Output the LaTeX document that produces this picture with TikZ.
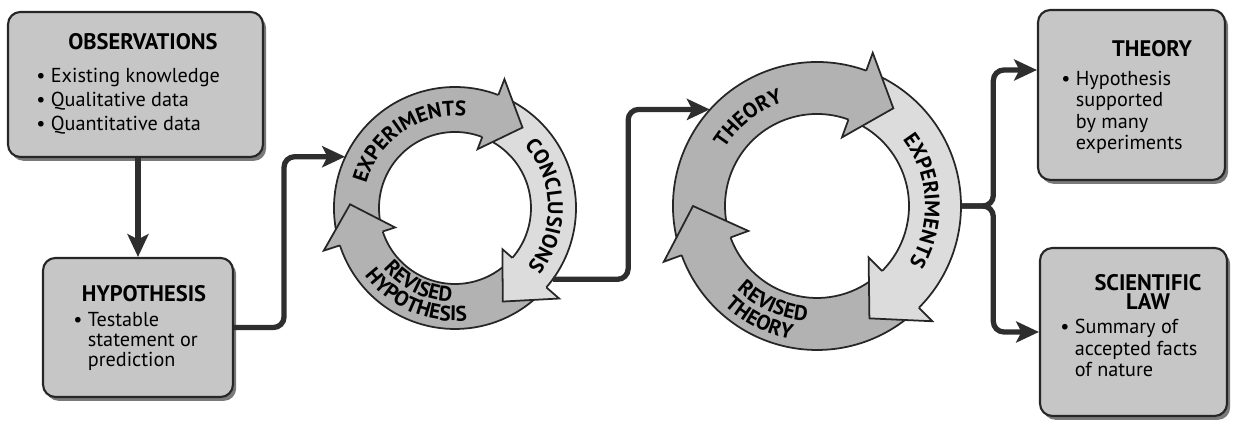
\documentclass[tikz,border=0pt]{standalone}
\usepackage{fontspec}
\setmainfont{PT Sans}
\usetikzlibrary{arrows.meta,decorations.text,shadows,calc}
\definecolor{boxfill}{HTML}{C6C6C6}
\definecolor{edgec}{HTML}{262626}
\definecolor{shadowc}{HTML}{7A7A7A}
\definecolor{midg}{HTML}{B2B2B2}
\definecolor{lightg}{HTML}{DCDCDC}
\definecolor{connc}{HTML}{2E2E2E}
\newcommand\ringband[3]{%
  \filldraw[fill=#3, draw=edgec, line width=1pt] (#1:\Rout) arc[start angle=#1, end angle={#2-2}, radius=\Rout] -- ({#2-2}:\Rin) arc[start angle={#2-2}, end angle=#1, radius=\Rin] -- cycle;}
\newcommand\ringhead[3]{%
  \filldraw[fill=#3, draw=edgec, line width=1pt, line join=miter] (#1:\Rout) -- ({#1}:{\Rout+\Fout}) -- (#2:\Rtip) -- ({#1}:{\Rin-\Fin}) -- (#1:\Rin);}
\newcommand\ringfont{\fontsize{12}{12}\selectfont\bfseries}
\begin{document}
\begin{tikzpicture}[x=0.02cm,y=0.02cm,
  box/.style={draw=edgec, line width=1.2pt, fill=boxfill, rounded corners=7pt, inner sep=0pt,
    drop shadow={shadow xshift=1.8pt, shadow yshift=-2.2pt, fill=shadowc, opacity=1}},
  head/.style={font=\fontsize{12.8}{11.3}\selectfont\bfseries, inner sep=0pt, align=center},
  body/.style={inner sep=0pt, align=left},
  conn/.style={draw=connc, line width=3pt, rounded corners=6pt,
    -{Stealth[length=13pt,width=12pt,inset=3pt]}},
  ringtext/.style={decorate, decoration={text along path, text align=center, text={#1}}}
]
\useasboundingbox (0,0) rectangle (1234,421);

% ---------- boxes ----------
\node[box, minimum width=5.1cm, minimum height=2.9cm] (obs) at (135.5,336.5) {};
\node[box, minimum width=3.8cm, minimum height=2.78cm] (hyp) at (138,93.5) {};
\node[box, minimum width=3.74cm, minimum height=3.4cm] (thy) at (1131.5,326) {};
\node[box, minimum width=3.74cm, minimum height=3.36cm] (law) at (1133.5,89) {};

% (base anchor of a multi-line node = baseline of its last line)
\node[head, anchor=base] (obsh) at (143,371) {OBSERVATIONS};
\node[body, anchor=base west, font=\fontsize{11.5}{13.9}\selectfont] (obsb) at (36,290)
  {•~Existing knowledge\\•~Qualitative data\\•~Quantitative data};

\node[head, anchor=base] (hyph) at (144,119) {HYPOTHESIS};
\node[body, anchor=base west, font=\fontsize{11.5}{11.6}\selectfont] (hypb) at (73,54)
  {•~Testable\\\phantom{•~}statement or\\\phantom{•~}prediction};

\node[head, anchor=base] (thyh) at (1152,364) {THEORY};
\node[body, anchor=base west, font=\fontsize{11.5}{12.3}\selectfont] (thyb) at (1061,271)
  {•~Hypothesis\\\phantom{•~}supported\\\phantom{•~}by many\\\phantom{•~}experiments};

\node[head, anchor=base] (lawh) at (1148,111) {SCIENTIFIC\\LAW};
\node[body, anchor=base west, font=\fontsize{11.5}{12.4}\selectfont] (lawb) at (1060,44)
  {•~Summary of\\\phantom{•~}accepted facts\\\phantom{•~}of nature};

% ---------- ring 1 ----------
\node[circle, minimum size=4.84cm, inner sep=0pt] (ring1) at (455,213) {};
\begin{scope}[shift={(455,213)}]
  \def\Rin{76}\def\Rout{121}\def\Rtip{105}\def\Fout{17}\def\Fin{13}
  \ringband{195}{69}{midg}
  \ringband{66}{-41}{lightg}
  \ringband{-44}{-162}{midg}
  \ringhead{69}{50}{midg}
  \ringhead{-41}{-63}{lightg}
  \ringhead{-162}{-182}{midg}
  \path[ringtext={|\ringfont|EXPERIMENTS}] (167:92) arc[start angle=167, end angle=81, radius=92];
  \path[ringtext={|\ringfont|CONCLUSIONS}] (44:93) arc[start angle=44, end angle=-41, radius=93];
  \path[ringtext={|\ringfont|REVISED}] (216:94) arc[start angle=216, end angle=272, radius=94];
  \path[ringtext={|\ringfont|HYPOTHESIS}] (214:113) arc[start angle=214, end angle=279, radius=113];
\end{scope}

% ---------- ring 2 ----------
\node[circle, minimum size=5.76cm, inner sep=0pt] (ring2) at (817,215) {};
\begin{scope}[shift={(817,215)}]
  \def\Rin{92}\def\Rout{144}\def\Rtip{124}\def\Fout{19}\def\Fin{19}
  \ringband{197}{70}{midg}
  \ringband{67}{-45}{lightg}
  \ringband{-48}{-160}{midg}
  \ringhead{70}{52}{midg}
  \ringhead{-45}{-65}{lightg}
  \ringhead{-160}{-180}{midg}
  \path[ringtext={|\ringfont|THEORY}] (150:109) arc[start angle=150, end angle=106, radius=109];
  \path[ringtext={|\ringfont|EXPERIMENTS}] (42:108) arc[start angle=42, end angle=-36, radius=108];
  \path[ringtext={|\ringfont|REVISED}] (223:116) arc[start angle=223, end angle=268, radius=116];
  \path[ringtext={|\ringfont|THEORY}] (226:136) arc[start angle=226, end angle=260, radius=136];
\end{scope}

% ---------- connectors ----------
\draw[conn] (hyp.north |- obs.south) -- (hyp.north);
\draw[conn] (hyp.east) -- ++(50,0) |- (ring1.155);
\draw[conn] (ring1.-36) -- ++(75,0) |- (ring2.138);
\draw[conn] (ring2.east) -- ++(32,0) |- ([yshift=0.5cm]thy.west);
\draw[conn] (ring2.east) -- ++(32,0) |- (law.west);
\end{tikzpicture}
\end{document}
